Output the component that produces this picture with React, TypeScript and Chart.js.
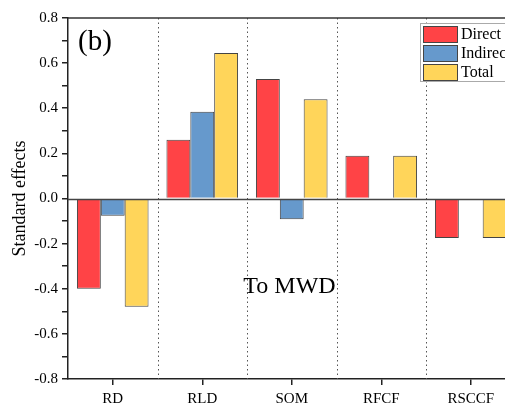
import React, { useEffect, useRef } from "react";
import { Chart, registerables } from "chart.js";

Chart.register(...registerables);

const categories = ["RD", "RLD", "SOM", "RFCF", "RSCCF"];
const directValues = [-0.4, 0.26, 0.53, 0.19, -0.175];
const indirectValues = [-0.077, 0.385, -0.092, 0, 0];
const totalValues = [-0.48, 0.645, 0.44, 0.19, -0.175];
const seriesLabels = ["Direct", "Indirect", "Total"];
const seriesColors = ["#FF4346", "#6699CC", "#FFD55A"];
const panelLabel = "(b)";
const annotation = "To MWD";
const yTitle = "Standard effects";

const FONT = "'Liberation Serif', 'Times New Roman', serif";

const decorPlugin = {
  id: "decor",
  beforeDatasetsDraw(chart: any) {
    const { ctx, chartArea, scales } = chart;
    const x = scales.x;
    ctx.save();
    ctx.strokeStyle = "#555";
    ctx.lineWidth = 1;
    ctx.setLineDash([1.5, 3]);
    for (let i = 0; i < categories.length - 1; i++) {
      const px = Math.round((x.getPixelForValue(i) + x.getPixelForValue(i + 1)) / 2) + 0.5;
      ctx.beginPath();
      ctx.moveTo(px, chartArea.top);
      ctx.lineTo(px, chartArea.bottom);
      ctx.stroke();
    }
    ctx.setLineDash([]);
    ctx.restore();
  },
  afterDatasetsDraw(chart: any) {
    const { ctx, chartArea, scales } = chart;
    const y = scales.y;
    ctx.save();
    const zy = Math.round(y.getPixelForValue(0)) + 0.5;
    ctx.strokeStyle = "#444";
    ctx.lineWidth = 1.5;
    ctx.beginPath();
    ctx.moveTo(chartArea.left, zy);
    ctx.lineTo(chartArea.right, zy);
    ctx.stroke();
    ctx.strokeStyle = "#333";
    ctx.lineWidth = 1.5;
    ctx.beginPath();
    ctx.moveTo(chartArea.left, chartArea.top);
    ctx.lineTo(chartArea.right, chartArea.top);
    ctx.stroke();
    ctx.fillStyle = "#000";
    ctx.font = `29px ${FONT}`;
    ctx.textBaseline = "alphabetic";
    ctx.textAlign = "left";
    ctx.fillText(panelLabel, chartArea.left + 10, chartArea.top + 32);
    ctx.font = `24px ${FONT}`;
    ctx.textAlign = "center";
    ctx.fillText(annotation, 289.5, 293);
    const lx = 420;
    const ly = 23;
    ctx.fillStyle = "#fff";
    ctx.fillRect(lx, ly, 120, 59);
    ctx.strokeStyle = "#aaa";
    ctx.lineWidth = 1;
    ctx.strokeRect(lx + 0.5, ly + 0.5, 120, 58);
    ctx.font = `16px ${FONT}`;
    ctx.textAlign = "left";
    ctx.textBaseline = "middle";
    for (let i = 0; i < seriesLabels.length; i++) {
      const ry = ly + 3 + i * 19;
      ctx.fillStyle = seriesColors[i];
      ctx.fillRect(lx + 3.5, ry + 0.5, 34, 16);
      ctx.strokeStyle = "#444";
      ctx.strokeRect(lx + 3.5, ry + 0.5, 34, 16);
      ctx.fillStyle = "#000";
      ctx.fillText(seriesLabels[i], lx + 41, ry + 9);
    }
    ctx.restore();
  },
};

export default function App() {
  const ref = useRef<HTMLCanvasElement>(null);
  useEffect(() => {
    if (!ref.current) return;
    const values = [directValues, indirectValues, totalValues];
    const chart = new Chart(ref.current, {
      type: "bar",
      data: {
        labels: categories,
        datasets: values.map((v, i) => ({
          label: seriesLabels[i],
          data: v,
          backgroundColor: seriesColors[i],
          borderColor: "#444",
          borderWidth: 1,
          barPercentage: 1,
          categoryPercentage: 0.8,
        })),
      },
      options: {
        animation: false,
        responsive: false,
        maintainAspectRatio: false,
        layout: { padding: { top: 18, right: 4.5, left: 0, bottom: 0 } },
        plugins: { legend: { display: false }, tooltip: { enabled: false } },
        scales: {
          x: {
            grid: {
              offset: false,
              drawOnChartArea: false,
              drawTicks: true,
              tickLength: 6,
              color: "#222",
              lineWidth: 1.5,
            },
            border: { display: true, color: "#222", width: 1.5 },
            ticks: {
              color: "#000",
              font: { family: FONT, size: 15 },
              padding: 5,
              maxRotation: 0,
            },
            afterFit: (s: any) => {
              s.height = 25;
            },
          },
          y: {
            min: -0.8,
            max: 0.8,
            grid: {
              drawOnChartArea: false,
              drawTicks: true,
              tickLength: 6,
              color: "#222",
              lineWidth: 1.5,
            },
            border: { display: true, color: "#222", width: 1.5 },
            ticks: {
              stepSize: 0.1,
              autoSkip: false,
              color: "#000",
              font: { family: FONT, size: 15 },
              padding: 4,
              callback: (v: any) => {
                const t = Math.round(Number(v) * 10);
                if (t % 2 !== 0) return "";
                return (t / 10).toFixed(1);
              },
            },
            title: {
              display: true,
              text: yTitle,
              color: "#000",
              font: { family: FONT, size: 18 },
              padding: { top: 9, bottom: 0 },
            },
            afterFit: (s: any) => {
              s.width = 68;
            },
          },
        },
      },
      plugins: [decorPlugin],
    });
    return () => chart.destroy();
  }, []);
  return (
    <div
      style={{
        position: "absolute",
        left: 0,
        top: 0,
        width: 505,
        height: 404,
        overflow: "hidden",
        background: "#fff",
      }}
    >
      <canvas ref={ref} width={520} height={404} style={{ width: 520, height: 404 }} />
    </div>
  );
}
